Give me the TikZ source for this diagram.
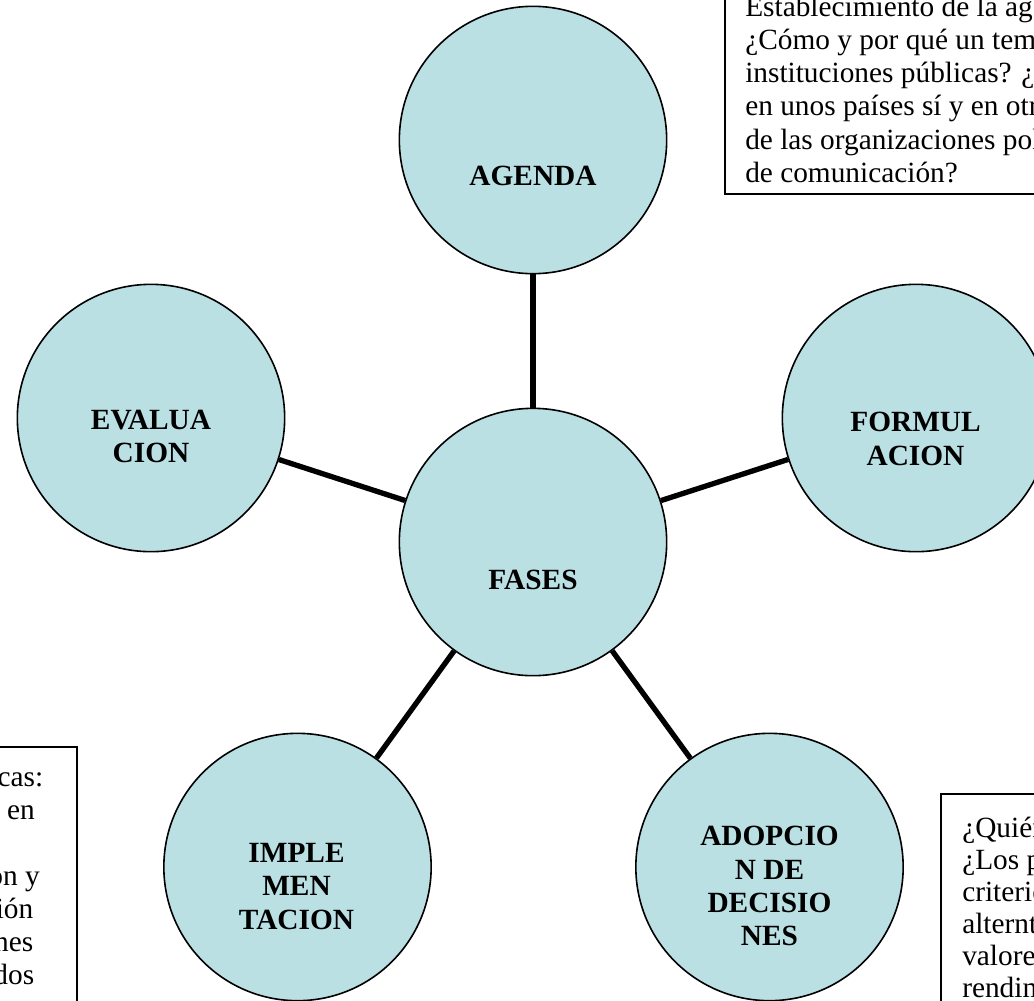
\documentclass[tikz,border=0pt]{standalone}
\usepackage{fontspec}
\setmainfont{Liberation Serif}
\definecolor{fillblue}{RGB}{186,224,228}
\tikzset{
  phase/.style={circle, draw=black, line width=1.2pt, fill=fillblue,
    minimum size=200.5pt, inner sep=0pt},
  lbl/.style={font=\bfseries\fontsize{22}{25}\selectfont, align=center,
    anchor=north, inner sep=0pt},
  link/.style={line width=4pt},
  boxline/.style={draw=black, line width=1.2pt},
  boxtxt/.style={font=\fontsize{22}{25}\selectfont, inner sep=0pt},
}
\begin{document}
\begin{tikzpicture}[x=0.75pt,y=-0.75pt]
\useasboundingbox (0,0) rectangle (1034,1000);
\clip (0,0) rectangle (1034,1000);
\fill[white] (0,0) rectangle (1034,1000);

% circles
\node[phase] (agenda) at (533,140) {};
\node[phase] (fases)  at (533,542) {};
\node[phase] (evalua) at (151,418) {};
\node[phase] (formul) at (916,418) {};
\node[phase] (imple)  at (297.5,867) {};
\node[phase] (adop)   at (769.5,867) {};

% connectors
\draw[link] (agenda) -- (fases);
\draw[link] (evalua) -- (fases);
\draw[link] (formul) -- (fases);
\draw[link] (imple) -- (fases);
\draw[link] (adop) -- (fases);

% circle labels
\node[lbl] (agendaT) at (533,166) {AGENDA};
\node[lbl] (fasesT)  at (533,570) {FASES};
\node[lbl] (evaluaT) at (151,410) {EVALUA\\CION};
\node[lbl] (formulT) at (915.5,412) {FORMUL\\ACION};
\node[lbl] (impleT)  at (296.5,843) {IMPLE\\MEN\\TACION};
\node[lbl] (adopT)   at (769.5,826) {ADOPCIO\\N DE\\DECISIO\\NES};

% top-right box
\draw[boxline] (725,-20) rectangle (1060,194);
\foreach \t [count=\i] in {Establecimiento de la ag,
  ¿Cómo y por qué un tem,
  instituciones públicas? ¿P,
  en unos países sí y en otr,
  de las organizaciones pol,
  de comunicación?}
  \node[boxtxt, anchor=base west] (tr\i) at (745,{16+33.3*(\i-1)}) {\t};

% bottom-left box
\draw[boxline] (-20,747) rectangle (77,1020);
\node[boxtxt, anchor=base east] (bl1) at (43.5,786) {cas:};
\node[boxtxt, anchor=base east] (bl2) at (35,819) {en};
\node[boxtxt, anchor=base east] (bl4) at (40,885) {on y};
\node[boxtxt, anchor=base east] (bl5) at (33.5,918) {ión};
\node[boxtxt, anchor=base east] (bl6) at (33.5,951) {nes};
\node[boxtxt, anchor=base east] (bl7) at (34.5,984) {dos};

% bottom-right box
\draw[boxline] (941,794) rectangle (1060,1020);
\foreach \t [count=\i] in {¿Quién, ¿Los p, criterio, alternt, valore, rendim}
  \node[boxtxt, anchor=base west] (br\i) at (962,{837+32*(\i-1)}) {\t};
\end{tikzpicture}
\end{document}
